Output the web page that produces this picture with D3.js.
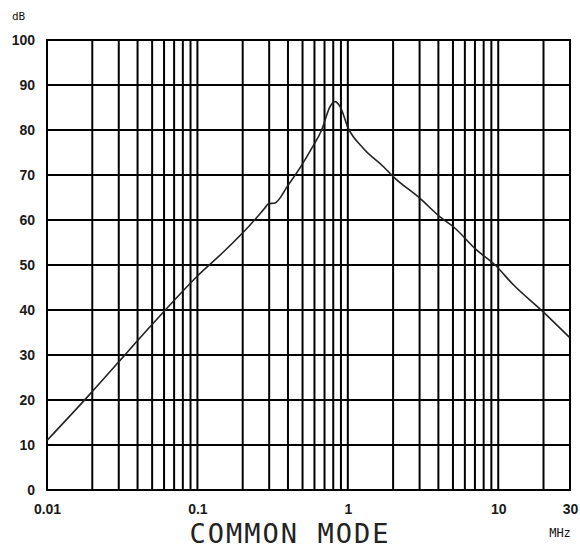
<!DOCTYPE html>
<html>
<head>
<meta charset="utf-8">
<script src="https://cdn.jsdelivr.net/npm/d3@7"></script>
<style>
  body { margin: 0; background: #fff; }
  .lbl text { font-family: "Liberation Sans", Arial, sans-serif; font-size: 14px; font-weight: bold; fill: #1a1a1a; }
</style>
</head>
<body>
<svg id="chart" width="580" height="548"></svg>
<script>
// values
var freq = [0.01, 0.0193, 0.0306, 0.0395, 0.0593, 0.0989, 0.15, 0.224, 0.28, 0.296, 0.328,
            0.402, 0.494, 0.575, 0.67, 0.762, 0.822, 0.888, 1.007, 1.27, 1.72, 2.01, 3.02,
            4.1, 5.03, 7.2, 9.53, 12.6, 19.9, 30];
var level = [11, 21.3, 28.8, 33, 39.5, 47.4, 53, 58.9, 62.6, 63.6, 63.8,
             67.8, 72.2, 75.9, 80, 85.2, 86.3, 85.2, 80.4, 75.9, 71.9, 69.6, 64.8,
             60.7, 58.5, 53.3, 50, 45.6, 39.6, 33.8];
var xGrid = [0.01, 0.02, 0.03, 0.04, 0.05, 0.06, 0.07, 0.08, 0.09,
             0.1, 0.2, 0.3, 0.4, 0.5, 0.6, 0.7, 0.8, 0.9,
             1, 2, 3, 4, 5, 6, 7, 8, 9,
             10, 20, 30];
var xLabels = [0.01, 0.1, 1, 10, 30];
var yTicks = [0, 10, 20, 30, 40, 50, 60, 70, 80, 90, 100];

var plot_l = 47, plot_t = 40, plot_r = 570, plot_b = 490;
var svg = d3.select('#chart');

var x = d3.scaleLog().domain([0.01, 30]).range([plot_l, plot_r]);
var y = d3.scaleLinear().domain([0, 100]).range([plot_b, plot_t]);

// grid
var g = svg.append('g');
g.selectAll('.vg')
    .data(xGrid)
    .enter()
    .append('line')
    .attr('x1', function(d) { return x(d); })
    .attr('x2', function(d) { return x(d); })
    .attr('y1', plot_t - 1)
    .attr('y2', plot_b + 1)
    .attr('stroke', '#000')
    .attr('stroke-width', 2);
g.selectAll('.hg')
    .data(yTicks)
    .enter()
    .append('line')
    .attr('x1', plot_l - 1)
    .attr('x2', plot_r + 1)
    .attr('y1', function(d) { return y(d); })
    .attr('y2', function(d) { return y(d); })
    .attr('stroke', '#000')
    .attr('stroke-width', 2);

// labels on axes
var xAxis = d3.axisBottom(x).tickValues(xLabels).tickSize(0).tickPadding(14)
    .tickFormat(function(d) { return String(d); });
svg.append('g').attr('class', 'lbl').attr('transform', 'translate(0,' + plot_b + ')')
    .call(xAxis)
    .call(function(s) { s.select('.domain').remove(); });

var yAxis = d3.axisLeft(y).tickValues(yTicks).tickSize(0).tickPadding(12);
svg.append('g').attr('class', 'lbl').attr('transform', 'translate(' + plot_l + ',0)')
    .call(yAxis)
    .call(function(s) { s.select('.domain').remove(); });

// curve
var line = d3.line()
    .x(function(d, i) { return x(freq[i]); })
    .y(function(d) { return y(d); })
    .curve(d3.curveMonotoneX);
svg.append('path')
    .datum(level)
    .attr('d', line)
    .attr('fill', 'none')
    .attr('stroke', '#222')
    .attr('stroke-width', 1.6);

// units and title
svg.append('text')
    .attr('x', 12).attr('y', 20)
    .style('font-family', '"DejaVu Sans Mono", monospace')
    .style('font-size', '11px')
    .attr('fill', '#111')
    .text('dB');
svg.append('text')
    .attr('x', 560).attr('y', 537)
    .attr('text-anchor', 'middle')
    .style('font-family', '"DejaVu Sans Mono", monospace')
    .style('font-size', '12px')
    .attr('fill', '#111')
    .text('MHz');
svg.append('text')
    .attr('x', 290).attr('y', 543)
    .attr('text-anchor', 'middle')
    .style('font-family', '"DejaVu Sans Mono", monospace')
    .style('font-size', '27px')
    .style('font-weight', '200')
    .style('letter-spacing', '2px')
    .attr('fill', '#222')
    .text('COMMON MODE');
</script>
</body>
</html>
